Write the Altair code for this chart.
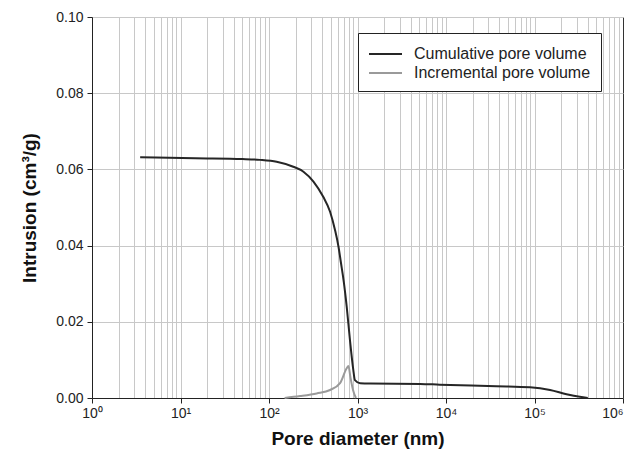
import altair as alt
import pandas as pd

# Cumulative pore volume
cum_d = [3.5, 14.6, 50, 79, 122, 188, 245, 318, 410, 490, 557, 610, 650, 700, 755,
         822, 895, 935, 1070, 1400, 5100, 8500, 37000, 89000, 150000, 230000,
         325000, 400000]
cum_v = [0.0632, 0.0629, 0.0627, 0.0625, 0.0620, 0.0607, 0.0594, 0.0568, 0.0528,
         0.0489, 0.0441, 0.0397, 0.0355, 0.0305, 0.0240, 0.0152, 0.0075, 0.0047,
         0.0039, 0.0038, 0.0037, 0.0035, 0.0031, 0.0028, 0.0021, 0.0010, 0.0003, 0.0]

# Incremental pore volume
inc_d = [150, 224, 346, 490, 635, 755, 790, 830, 890, 960]
inc_v = [0.0, 0.0005, 0.0012, 0.0021, 0.0039, 0.0078, 0.0084, 0.0056, 0.0021, 0.0]

series = ["Cumulative pore volume", "Incremental pore volume"]
colors = ["#262626", "#9a9a9a"]

x_grid_values = [m * 10 ** k for k in range(6) for m in range(1, 10)] + [10 ** 6]
y_values = [0.0, 0.02, 0.04, 0.06, 0.08, 0.10]

df = pd.concat([
    pd.DataFrame({"d": cum_d, "v": cum_v, "s": series[0], "o": range(len(cum_d))}),
    pd.DataFrame({"d": inc_d, "v": inc_v, "s": series[1], "o": range(len(inc_d))}),
])

is_decade = "abs(log(datum.value)/LN10 - round(log(datum.value)/LN10)) < 0.001"
font = "Liberation Sans"

chart = alt.Chart(df).mark_line(strokeWidth=2, interpolate="monotone").encode(
    x=alt.X("d:Q",
            scale=alt.Scale(type="log", domain=[1, 1e6], nice=False),
            axis=alt.Axis(
                title="Pore diameter (nm)",
                values=x_grid_values,
                labelExpr="(" + is_decade + ") ? '10' + ['⁰','¹','²','³','⁴','⁵','⁶'][round(log(datum.value)/LN10)] : ''",
                labelAlign={"condition": {"test": "datum.value >= 999999", "value": "right"}, "value": "center"},
                tickColor={"condition": {"test": is_decade, "value": "#222222"}, "value": "transparent"},
                gridColor={"condition": {"test": "datum.value >= 999999", "value": "#333333"}, "value": "#c8c8c8"},
                tickSize=5,
                labelFlush=False,
                labelOverlap=False,
                labelPadding=3,
                titlePadding=9,
            )),
    y=alt.Y("v:Q",
            scale=alt.Scale(domain=[0, 0.1], nice=False),
            axis=alt.Axis(
                title="Intrusion (cm³/g)",
                values=y_values,
                format=".2f",
                tickSize=5,
                labelPadding=4,
                titlePadding=16,
            )),
    color=alt.Color("s:N",
                    scale=alt.Scale(domain=series, range=colors),
                    legend=alt.Legend(
                        title=None,
                        orient="none",
                        legendX=266,
                        legendY=16,
                        symbolType="M-1,0H2.3",
                        symbolSize=400,
                        symbolStrokeWidth=2,
                        labelFontSize=16,
                        labelFont=font,
                        labelColor="#222222",
                        strokeColor="#222222",
                        fillColor="white",
                        padding=10,
                        rowPadding=0,
                        labelOffset=24,
                        labelLimit=400,
                    )),
    order="o:Q",
).properties(
    width=531,
    height=381,
    autosize=alt.AutoSizeParams(type="none"),
    padding={"left": 84, "top": 9, "right": 5, "bottom": 54},
).configure_view(
    stroke=None,
).configure_axis(
    grid=True,
    gridColor="#c8c8c8",
    gridWidth=1,
    domainColor="#222222",
    tickColor="#222222",
    labelFont=font,
    labelFontSize=14,
    labelColor="#222222",
    titleFont=font,
    titleFontSize=19,
    titleFontWeight="bold",
    titleColor="#111111",
)

chart.save("out.html", embed_options={"renderer": "svg", "actions": False})
